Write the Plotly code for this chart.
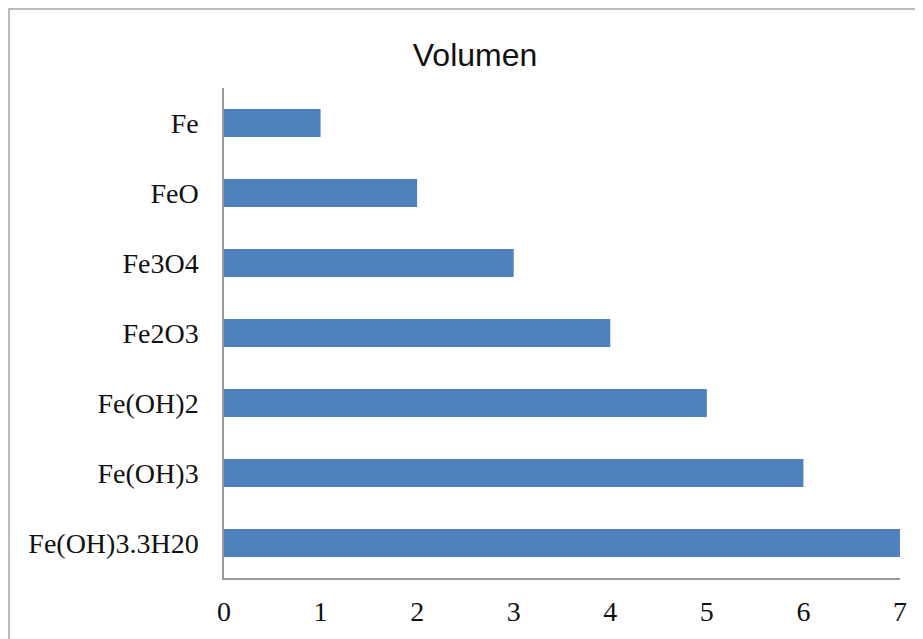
import plotly.graph_objects as go

categories = ["Fe", "FeO", "Fe3O4", "Fe2O3", "Fe(OH)2", "Fe(OH)3", "Fe(OH)3.3H20"]
values = [1, 2, 3, 4, 5, 6, 7]
x_ticks = [0, 1, 2, 3, 4, 5, 6, 7]
title_text = "Volumen"

fig = go.Figure(go.Bar(
    x=values, y=categories, orientation="h",
    marker=dict(color="#4F81BD", line=dict(width=0)),
    width=0.4,
))

fig.update_layout(
    width=923, height=639,
    paper_bgcolor="white", plot_bgcolor="white",
    margin=dict(l=216, r=31, t=80, b=69),
    showlegend=False,
    title=dict(text=title_text, x=0.506, xanchor="center", y=0.926, yanchor="middle",
               font=dict(family="Liberation Sans, Arial", size=32, color="#111")),
    xaxis=dict(range=[0, 7], tickvals=x_ticks, showgrid=False, zeroline=False,
               showline=True, linecolor="#999", linewidth=1.5, ticks="",
               ticklabelstandoff=8,
               tickfont=dict(family="Liberation Serif, Times New Roman", size=28, color="#111")),
    yaxis=dict(autorange="reversed", showgrid=False, zeroline=False,
               showline=True, linecolor="#999", linewidth=1.5, ticks="",
               ticklabelstandoff=18,
               tickfont=dict(family="Liberation Serif, Times New Roman", size=28, color="#111")),
    shapes=[dict(type="rect", xref="paper", yref="paper",
                 x0=-0.318, x1=1.1, y0=-0.3, y1=1.161,
                 line=dict(color="#bbbbbb", width=2), layer="below")],
)

fig.write_html("out.html")
